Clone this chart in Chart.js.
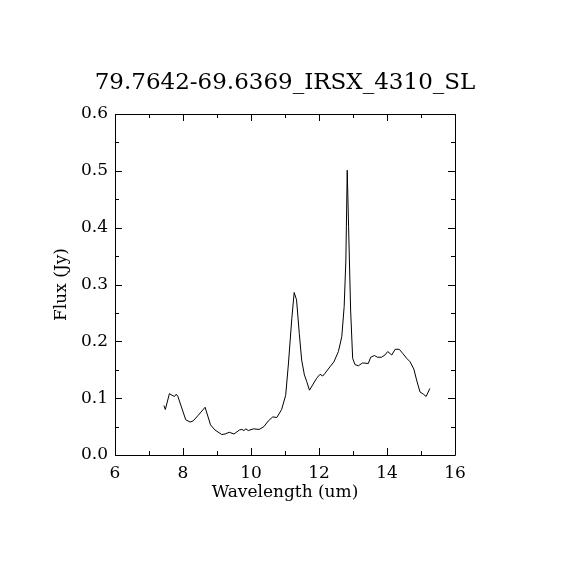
<!DOCTYPE html>
<html>
<head>
<meta charset="utf-8">
<script src="https://cdn.jsdelivr.net/npm/chart.js@4.4.0/dist/chart.umd.min.js"></script>
<style>
html,body{margin:0;padding:0;background:#fff;}
canvas{display:block;}
</style>
</head>
<body>
<canvas id="c" width="570" height="570"></canvas>
<script>
const chartTitle = "79.7642-69.6369_IRSX_4310_SL";
const xLabel = "Wavelength (um)";
const yLabel = "Flux (Jy)";

const wavelength = [7.44,7.48,7.60,7.68,7.75,7.80,7.85,8.08,8.21,8.30,8.45,8.65,8.81,8.94,9.14,9.24,9.36,9.50,9.66,9.73,9.79,9.85,9.92,10.07,10.24,10.38,10.51,10.64,10.76,10.90,11.02,11.10,11.20,11.27,11.34,11.42,11.49,11.57,11.64,11.72,11.81,11.93,12.03,12.11,12.18,12.32,12.44,12.57,12.67,12.74,12.79,12.83,12.87,12.93,12.99,13.06,13.16,13.28,13.45,13.52,13.63,13.72,13.84,13.94,14.02,14.14,14.24,14.36,14.46,14.58,14.68,14.79,14.87,14.97,15.07,15.15,15.26];
const flux = [0.087,0.080,0.108,0.105,0.103,0.107,0.103,0.062,0.058,0.060,0.070,0.084,0.053,0.044,0.036,0.037,0.040,0.037,0.044,0.045,0.043,0.046,0.043,0.046,0.045,0.050,0.060,0.067,0.066,0.080,0.105,0.160,0.240,0.286,0.273,0.214,0.167,0.141,0.129,0.114,0.123,0.135,0.142,0.139,0.144,0.155,0.164,0.182,0.208,0.261,0.343,0.501,0.402,0.255,0.170,0.159,0.157,0.162,0.161,0.172,0.175,0.172,0.172,0.176,0.182,0.176,0.186,0.186,0.179,0.170,0.164,0.151,0.132,0.111,0.107,0.103,0.117];

const xMin = 6, xMax = 16, xMajorStep = 2, xMinorStep = 1;
const yMin = 0, yMax = 0.6, yMajorStep = 0.1, yMinorStep = 0.05;

const FONT = "'DejaVu Serif', 'Liberation Serif', serif";

const boxTicks = {
  id: 'boxTicks',
  afterDatasetsDraw(chart) {
    const {ctx, chartArea: a, scales: {x, y}} = chart;
    ctx.save();
    ctx.strokeStyle = '#000';
    ctx.lineWidth = 1;
    ctx.beginPath();
    ctx.rect(Math.round(a.left)+0.5, Math.round(a.top)+0.5, Math.round(a.right-a.left), Math.round(a.bottom-a.top));
    ctx.stroke();
    const major = 7, minor = 4;
    ctx.beginPath();
    const nx = Math.round((xMax - xMin) / xMinorStep);
    for (let i = 0; i <= nx; i++) {
      const v = xMin + i * xMinorStep;
      const isMajor = i % Math.round(xMajorStep / xMinorStep) === 0;
      const len = isMajor ? major : minor;
      const px = Math.round(x.getPixelForValue(v)) + 0.5;
      ctx.moveTo(px, a.bottom); ctx.lineTo(px, a.bottom - len);
      ctx.moveTo(px, a.top); ctx.lineTo(px, a.top + len);
    }
    const ny = Math.round((yMax - yMin) / yMinorStep);
    for (let i = 0; i <= ny; i++) {
      const v = yMin + i * yMinorStep;
      const isMajor = i % Math.round(yMajorStep / yMinorStep) === 0;
      const len = isMajor ? major : minor;
      const py = Math.round(y.getPixelForValue(v)) + 0.5;
      ctx.moveTo(a.left, py); ctx.lineTo(a.left + len, py);
      ctx.moveTo(a.right, py); ctx.lineTo(a.right - len, py);
    }
    ctx.stroke();
    ctx.restore();
  }
};

new Chart(document.getElementById('c'), {
  type: 'line',
  data: {
    datasets: [{
      data: wavelength.map((w, i) => ({x: w, y: flux[i]})),
      borderColor: '#000',
      borderWidth: 1,
      pointRadius: 0,
      tension: 0,
      fill: false
    }]
  },
  options: {
    responsive: false,
    animation: false,
    devicePixelRatio: 1,
    layout: {padding: 0},
    plugins: {
      legend: {display: false},
      tooltip: {enabled: false},
      title: {
        display: true,
        text: chartTitle,
        color: '#000',
        font: {family: FONT, size: 23, weight: 'normal', lineHeight: 1.2},
        padding: {top: 69.2, bottom: 17.2}
      }
    },
    scales: {
      x: {
        type: 'linear',
        min: xMin, max: xMax,
        afterFit(s) { s.height = 115; },
        grid: {display: false, drawTicks: false},
        border: {display: false},
        ticks: {
          stepSize: xMajorStep,
          autoSkip: false,
          maxRotation: 0,
          padding: 8,
          color: '#000',
          font: {family: FONT, size: 17}
        },
        title: {
          display: true,
          text: xLabel,
          color: '#000',
          font: {family: FONT, size: 17, lineHeight: 1.2},
          padding: {top: 0, bottom: 66.8}
        }
      },
      y: {
        type: 'linear',
        min: yMin, max: yMax,
        afterFit(s) { s.width = 115; },
        grid: {display: false, drawTicks: false},
        border: {display: false},
        ticks: {
          stepSize: yMajorStep,
          autoSkip: false,
          padding: 7,
          color: '#000',
          font: {family: FONT, size: 17},
          callback: v => Number(v).toFixed(1)
        },
        title: {
          display: true,
          text: yLabel,
          color: '#000',
          font: {family: FONT, size: 17, lineHeight: 1.2},
          padding: {top: 51.8, bottom: 0}
        }
      },
      yRight: {
        type: 'linear',
        position: 'right',
        min: yMin, max: yMax,
        afterFit(s) { s.width = 115; },
        grid: {display: false, drawTicks: false},
        border: {display: false},
        ticks: {display: false}
      }
    }
  },
  plugins: [boxTicks]
});
</script>
</body>
</html>
